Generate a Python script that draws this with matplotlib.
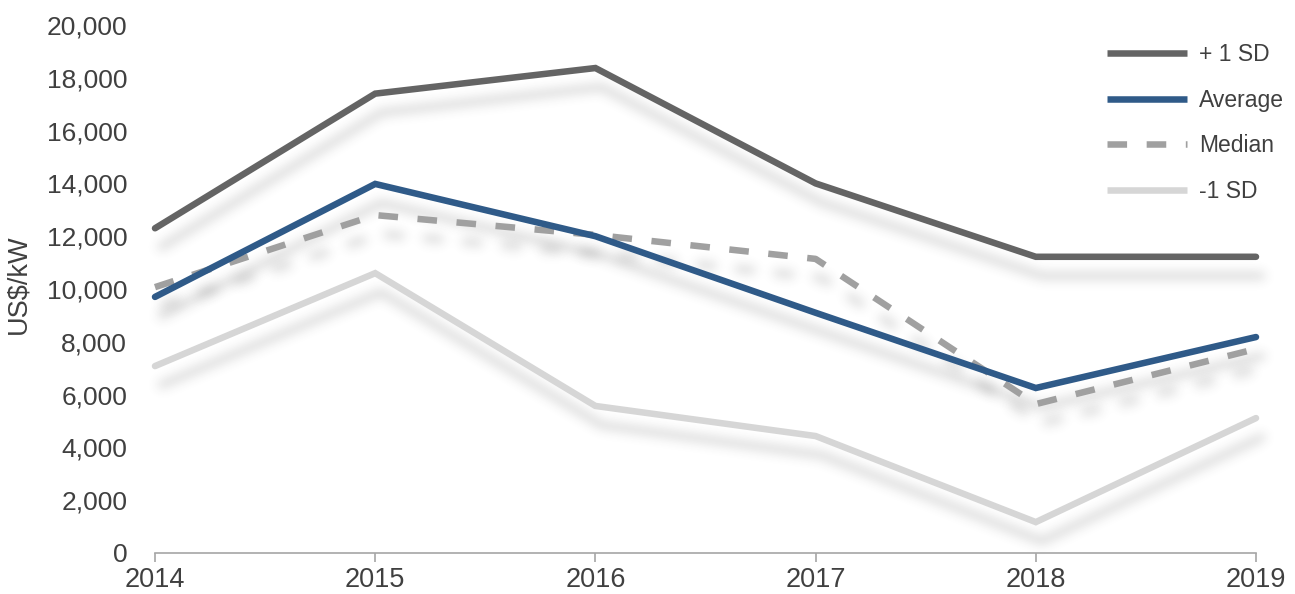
import numpy as np
import matplotlib.pyplot as plt
import matplotlib.transforms as mtransforms
from matplotlib.lines import Line2D
from matplotlib.ticker import FuncFormatter

plt.rcParams['font.family'] = ['Liberation Sans', 'DejaVu Sans']

years = [2014, 2015, 2016, 2017, 2018, 2019]
plus_sd = [12300, 17400, 18370, 14000, 11220, 11220]
average = [9700, 13980, 12000, 9100, 6250, 8180]
median = [10070, 12800, 12050, 11140, 5640, 7730]
minus_sd = [7080, 10600, 5570, 4430, 1170, 5110]

txt = '#404040'
LW = 4.7
DASH = (3.0, 3.0)


class BlurShadow:
    # agg filter: gaussian blur of the alpha channel, grey colour
    def __init__(self, sigma_px, alpha):
        self.sigma = sigma_px
        self.alpha = alpha

    def __call__(self, im, dpi):
        pad = int(3 * self.sigma) + 1
        a = np.pad(im[:, :, 3], pad)
        x = np.arange(-pad, pad + 1)
        k = np.exp(-0.5 * (x / self.sigma) ** 2)
        k /= k.sum()
        a = np.apply_along_axis(lambda r: np.convolve(r, k, mode='same'), 0, a)
        a = np.apply_along_axis(lambda r: np.convolve(r, k, mode='same'), 1, a)
        out = np.zeros(a.shape + (4,))
        out[:, :, :3] = 0.25
        out[:, :, 3] = a * self.alpha
        return out, -pad, -pad


fig = plt.figure(figsize=(12.95, 5.94), dpi=100)
ax = fig.add_axes([155/1295, 41/594, 1101/1295, 528/594])

series = [
    ('+ 1 SD', plus_sd, '#646464', '-'),
    ('Average', average, '#2F5A88', '-'),
    ('Median', median, '#A0A0A0', '--'),
    ('-1 SD', minus_sd, '#D6D6D6', '-'),
]

# shadows first, all under the lines
shift = ax.transData + mtransforms.ScaledTranslation(6/100, -19/100, fig.dpi_scale_trans)
for name, vals, col, ls in series:
    kw = dict(dashes=DASH) if ls == '--' else {}
    sh, = ax.plot(years, vals, color='k', lw=LW, transform=shift,
                  solid_capstyle='round', clip_on=False, zorder=1, **kw)
    sh.set_agg_filter(BlurShadow(5.5, 0.24))
    sh.set_rasterized(True)

order = [3, 0, 2, 1]
for i in order:
    name, vals, col, ls = series[i]
    kw = dict(dashes=DASH) if ls == '--' else {}
    ax.plot(years, vals, color=col, lw=LW, label=name, zorder=3,
            solid_joinstyle='miter', solid_capstyle='round', clip_on=False, **kw)

ax.set_xlim(2014, 2019)
ax.set_ylim(0, 20000)
ax.set_xticks(years)
ax.set_yticks(np.arange(0, 20001, 2000))
ax.yaxis.set_major_formatter(FuncFormatter(lambda v, p: f'{int(v):,}'))

for s in ['top', 'right', 'left']:
    ax.spines[s].set_visible(False)
ax.spines['bottom'].set_color('#A6A6A6')
ax.spines['bottom'].set_linewidth(1.2)
ax.tick_params(axis='x', colors='#A6A6A6', length=6.75, width=1.2, pad=3,
               labelsize=19.5, labelcolor=txt)
ax.tick_params(axis='y', length=0, pad=20, labelsize=19, labelcolor=txt)
ax.set_ylabel('US$/kW', fontsize=19.5, color=txt)
ax.yaxis.set_label_coords(-0.112, 0.51)

leg_handles = [Line2D([0], [0], color=c, lw=LW, ls=l, solid_capstyle='butt',
                      **({'dashes': DASH} if l == '--' else {}))
               for _, _, c, l in series]
ax.legend(leg_handles, [s[0] for s in series], loc='upper left',
          bbox_to_anchor=(1107/1295, 1 - 43/594), bbox_transform=fig.transFigure,
          frameon=False, fontsize=16.5, borderpad=0, borderaxespad=0,
          handlelength=3.5, handletextpad=0.5, labelspacing=0.99,
          labelcolor=txt)

fig.savefig('out.png', dpi=100)
